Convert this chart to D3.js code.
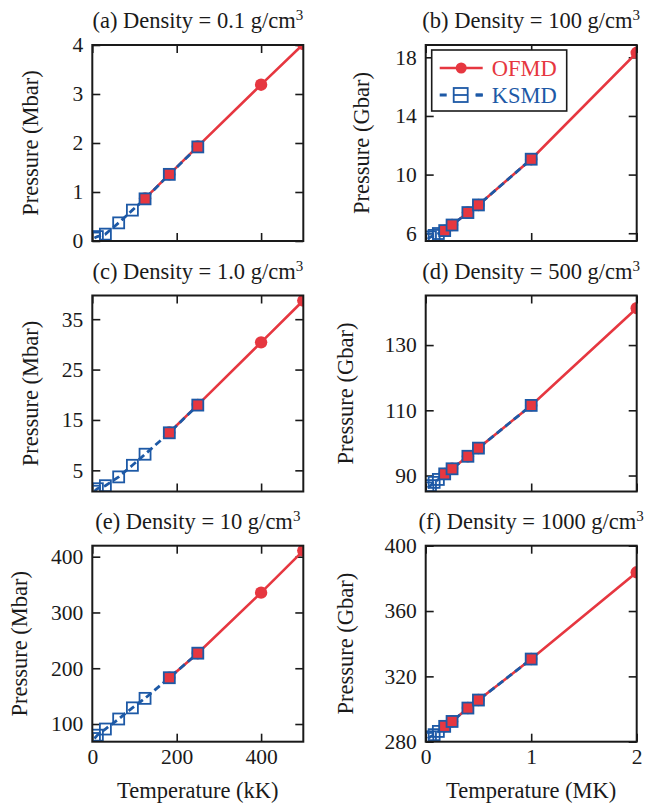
<!DOCTYPE html>
<html>
<head>
<meta charset="utf-8">
<script src="https://cdn.jsdelivr.net/npm/d3@7"></script>
<style>
  body { margin: 0; background: #fff; }
  text { font-family: "Liberation Serif", "Times New Roman", serif; fill: #1a1a1a; }
</style>
</head>
<body>
<svg id="chart" width="659" height="804"></svg>
<script>
// temperatures: kK in the left column, MK in the right column
const ksmdTempKK = [5, 12, 31, 62.5, 95, 125, 182.5, 250];
const ofmdTempA  = [125, 182.5, 250, 400, 500];
const ofmdTempKK = [182.5, 250, 400, 500];
const ksmdTempMK = [0.02, 0.045, 0.08, 0.12, 0.18, 0.25, 0.4, 0.5, 1.0];
const ofmdTempMK = [0.18, 0.25, 0.4, 0.5, 1.0, 2.0];

// pressures (Mbar left, Gbar right)
const ksmdA = [0.06, 0.09, 0.14, 0.37, 0.63, 0.86, 1.36, 1.92];
const ofmdA = [0.87, 1.36, 1.93, 3.19, 4.02];
const ksmdB = [5.6, 5.75, 5.85, 5.98, 6.18, 6.56, 7.41, 7.93, 11.05];
const ofmdB = [6.18, 6.56, 7.41, 7.93, 11.05, 18.31];
const ksmdC = [0.85, 1.35, 1.95, 3.7, 6.0, 8.2, 12.45, 17.95];
const ofmdC = [12.5, 18.0, 30.4, 38.7];
const ksmdD = [86.2, 86.9, 87.9, 88.8, 90.5, 92.06, 95.9, 98.4, 111.5];
const ofmdD = [90.5, 92.06, 95.9, 98.4, 111.5, 141.3];
const ksmdE = [74, 80, 91, 109, 129, 146, 183, 227];
const ofmdE = [183, 227, 335.5, 411];
const ksmdF = [282, 283, 284.3, 286.3, 289.4, 292.4, 300.6, 305.5, 330.6];
const ofmdF = [289.4, 292.4, 300.6, 305.5, 330.6, 383.7];

// tick labels
const xTicksKK = [0, 200, 400];
const xTicksMK = [0, 1, 2];
const yTicksA = [0, 1, 2, 3, 4];
const yTicksB = [6, 10, 14, 18];
const yTicksC = [5, 15, 25, 35];
const yTicksD = [90, 110, 130];
const yTicksE = [100, 200, 300, 400];
const yTicksF = [280, 320, 360, 400];

const titles = ["(a) Density = 0.1 g/cm", "(b) Density = 100 g/cm", "(c) Density = 1.0 g/cm",
                "(d) Density = 500 g/cm", "(e) Density = 10 g/cm", "(f) Density = 1000 g/cm"];

const RED = "#e63740", BLUE = "#1d59a6";
const pw = 211, ph = 196;
const svg = d3.select("#chart");

const panels = [
  { title: titles[0], x: 92.3, y: 45,    xDom: [0, 500], yDom: [0, 4],        xTicks: xTicksKK, yTicks: yTicksA, ksT: ksmdTempKK, ksP: ksmdA, ofT: ofmdTempA,  ofP: ofmdA, unit: "Mbar", labX: 38 },
  { title: titles[1], x: 425.7, y: 45,   xDom: [0, 2],   yDom: [5.47, 18.84], xTicks: xTicksMK, yTicks: yTicksB, ksT: ksmdTempMK, ksP: ksmdB, ofT: ofmdTempMK, ofP: ofmdB, unit: "Gbar", labX: 369, legend: true },
  { title: titles[2], x: 92.3, y: 295.5, xDom: [0, 500], yDom: [0.8, 39.7],   xTicks: xTicksKK, yTicks: yTicksC, ksT: ksmdTempKK, ksP: ksmdC, ofT: ofmdTempKK, ofP: ofmdC, unit: "Mbar", labX: 38 },
  { title: titles[3], x: 425.7, y: 295.5,xDom: [0, 2],   yDom: [85.1, 145.2], xTicks: xTicksMK, yTicks: yTicksD, ksT: ksmdTempMK, ksP: ksmdD, ofT: ofmdTempMK, ofP: ofmdD, unit: "Gbar", labX: 353 },
  { title: titles[4], x: 92.3, y: 545.7, xDom: [0, 500], yDom: [68.3, 419.7], xTicks: xTicksKK, yTicks: yTicksE, ksT: ksmdTempKK, ksP: ksmdE, ofT: ofmdTempKK, ofP: ofmdE, unit: "Mbar", labX: 27, xLabel: "Temperature (kK)" },
  { title: titles[5], x: 425.7, y: 545.7,xDom: [0, 2],   yDom: [280, 400],    xTicks: xTicksMK, yTicks: yTicksF, ksT: ksmdTempMK, ksP: ksmdF, ofT: ofmdTempMK, ofP: ofmdF, unit: "Gbar", labX: 353, xLabel: "Temperature (MK)" }
];

panels.forEach((p, i) => {
  const g = svg.append("g").attr("transform", `translate(${p.x},${p.y})`);
  const x = d3.scaleLinear().domain(p.xDom).range([0, pw]);
  const y = d3.scaleLinear().domain(p.yDom).range([ph, 0]);

  svg.append("clipPath").attr("id", "clip" + i)
    .append("rect").attr("width", pw).attr("height", ph);

  const none = () => "";
  const fmt = d3.format("~g");
  const styleAxis = sel => {
    sel.select(".domain").remove();
    sel.selectAll(".tick line").attr("stroke", "#1a1a1a").attr("stroke-width", 1.6);
    sel.selectAll(".tick text").attr("font-size", 21.5).attr("fill", "#1a1a1a")
      .style("font-family", '"Liberation Serif", serif');
  };

  g.append("g").attr("transform", `translate(0,${ph})`)
    .call(d3.axisBottom(x).tickValues(p.xTicks).tickSize(-8).tickPadding(7)
      .tickFormat(p.xLabel ? fmt : none)).call(styleAxis);
  g.append("g")
    .call(d3.axisTop(x).tickValues(p.xTicks).tickSize(-8).tickFormat(none)).call(styleAxis);
  g.append("g")
    .call(d3.axisLeft(y).tickValues(p.yTicks).tickSize(-8).tickPadding(9).tickFormat(fmt)).call(styleAxis);
  g.append("g").attr("transform", `translate(${pw},0)`)
    .call(d3.axisRight(y).tickValues(p.yTicks).tickSize(-8).tickFormat(none)).call(styleAxis);

  // data
  const plot = g.append("g").attr("clip-path", `url(#clip${i})`);
  const ofmd = p.ofT.map((t, j) => [t, p.ofP[j]]);
  const ksmd = p.ksT.map((t, j) => [t, p.ksP[j]]);
  const line = d3.line().x(d => x(d[0])).y(d => y(d[1]));

  plot.append("path").attr("d", line(ofmd)).attr("fill", "none")
    .attr("stroke", RED).attr("stroke-width", 2.6);
  plot.append("path").attr("d", line(ksmd)).attr("fill", "none")
    .attr("stroke", BLUE).attr("stroke-width", 2.8).attr("stroke-dasharray", "7,4");

  plot.selectAll(".of").data(ofmd).join("circle")
    .attr("cx", d => x(d[0])).attr("cy", d => y(d[1])).attr("r", 6.2)
    .attr("fill", RED);
  plot.selectAll(".ks").data(ksmd).join("rect")
    .attr("x", d => x(d[0]) - 5.5).attr("y", d => y(d[1]) - 5.5)
    .attr("width", 11).attr("height", 11)
    .attr("fill", d => p.ofT.includes(d[0]) ? RED : "none")
    .attr("stroke", BLUE).attr("stroke-width", 1.8);

  // frame
  g.append("rect").attr("width", pw).attr("height", ph)
    .attr("fill", "none").attr("stroke", "#1a1a1a").attr("stroke-width", 2);

  // title
  const t = svg.append("text").attr("x", p.x + pw / 2).attr("y", p.y - 17)
    .attr("text-anchor", "middle").attr("font-size", 22.5);
  t.append("tspan").text(p.title);
  t.append("tspan").attr("font-size", 15).attr("dy", -8).text("3");

  // y label
  svg.append("text")
    .attr("transform", `translate(${p.labX},${p.y + ph / 2}) rotate(-90)`)
    .attr("text-anchor", "middle").attr("font-size", 22.5)
    .text(`Pressure (${p.unit})`);

  if (p.xLabel) {
    svg.append("text").attr("x", p.x + pw / 2).attr("y", 798)
      .attr("text-anchor", "middle").attr("font-size", 22.5).text(p.xLabel);
  }

  if (p.legend) {
    const lg = g.append("g");
    lg.append("rect").attr("x", 6).attr("y", 5).attr("width", 135).attr("height", 61)
      .attr("fill", "#fff").attr("stroke", "#1a1a1a").attr("stroke-width", 1.6);
    lg.append("line").attr("x1", 14).attr("x2", 57).attr("y1", 23).attr("y2", 23)
      .attr("stroke", RED).attr("stroke-width", 2.6);
    lg.append("circle").attr("cx", 35.5).attr("cy", 23).attr("r", 5.5).attr("fill", RED);
    lg.append("text").attr("x", 66).attr("y", 30.5).attr("font-size", 22.5)
      .style("fill", RED).text("OFMD");
    lg.append("line").attr("x1", 14).attr("x2", 57).attr("y1", 50).attr("y2", 50)
      .attr("stroke", BLUE).attr("stroke-width", 2.8).attr("stroke-dasharray", "7,29");
    lg.append("line").attr("x1", 50).attr("x2", 57).attr("y1", 50).attr("y2", 50)
      .attr("stroke", BLUE).attr("stroke-width", 2.8);
    lg.append("rect").attr("x", 28).attr("y", 43).attr("width", 14).attr("height", 14)
      .attr("fill", "none").attr("stroke", BLUE).attr("stroke-width", 1.8);
    lg.append("line").attr("x1", 28).attr("x2", 42).attr("y1", 50).attr("y2", 50)
      .attr("stroke", BLUE).attr("stroke-width", 1.8);
    lg.append("text").attr("x", 66).attr("y", 57.5).attr("font-size", 22.5)
      .style("fill", BLUE).text("KSMD");
  }
});
</script>
</body>
</html>
